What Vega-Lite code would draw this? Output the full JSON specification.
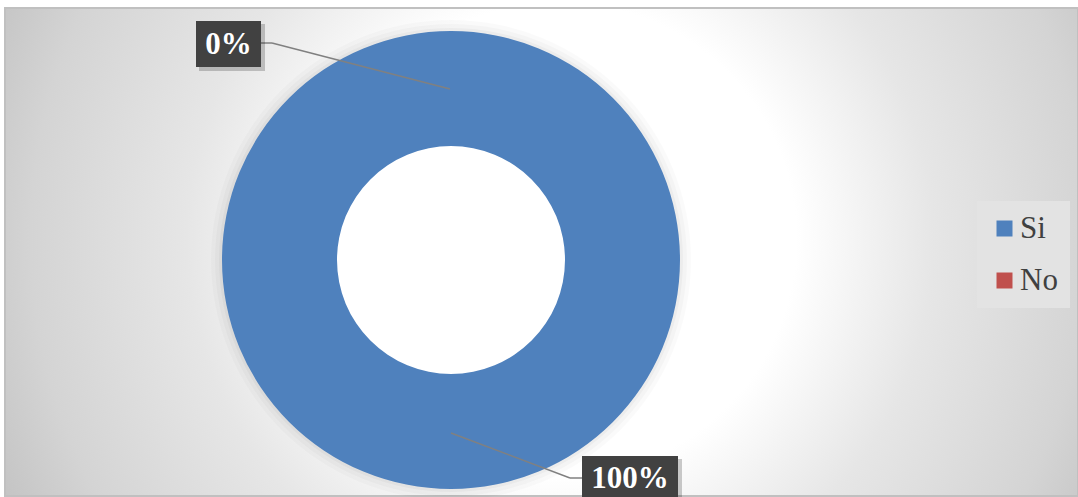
{
  "$schema": "https://vega.github.io/schema/vega-lite/v6.json",
  "width": 1078,
  "height": 497,
  "autosize": {"type": "fit", "contains": "padding"},
  "padding": {"left": 5, "top": 8, "right": 0, "bottom": 0},
  "background": "#ffffff",
  "data": {"values": [
    {"respuesta": "Si", "valor": 100, "etiqueta": "100%"},
    {"respuesta": "No", "valor": 0, "etiqueta": "0%"}
  ]},
  "layer": [
    {
      "mark": {"type": "arc", "outerRadius": 240, "innerRadius": 222, "color": "#000000", "opacity": 0.02},
      "encoding": {
        "theta": {"field": "valor", "type": "quantitative", "stack": true},
        "x": {"value": 446}, "y": {"value": 252}
      }
    },
    {
      "mark": {"type": "arc", "outerRadius": 236, "innerRadius": 222, "color": "#000000", "opacity": 0.025},
      "encoding": {
        "theta": {"field": "valor", "type": "quantitative", "stack": true},
        "x": {"value": 446}, "y": {"value": 252}
      }
    },
    {
      "mark": {"type": "arc", "outerRadius": 232, "innerRadius": 222, "color": "#000000", "opacity": 0.03},
      "encoding": {
        "theta": {"field": "valor", "type": "quantitative", "stack": true},
        "x": {"value": 446}, "y": {"value": 252}
      }
    },
    {
      "mark": {"type": "arc", "outerRadius": 229, "innerRadius": 114},
      "encoding": {
        "theta": {"field": "valor", "type": "quantitative", "stack": true},
        "color": {
          "field": "respuesta", "type": "nominal",
          "scale": {"domain": ["Si", "No"], "range": ["#4f81bd", "#c0504d"]},
          "legend": {
            "title": null, "orient": "none", "legendX": 972, "legendY": 193,
            "padding": 12, "fillColor": "#e3e3e3",
            "symbolType": "square", "symbolSize": 256, "symbolStrokeWidth": 0, "symbolOpacity": 1,
            "labelFont": "Times New Roman, Liberation Serif, serif", "labelFontSize": 31, "labelColor": "#404040",
            "rowPadding": 20, "labelOffset": 0
          }
        },
        "order": {"field": "respuesta", "sort": "descending"},
        "x": {"value": 446}, "y": {"value": 252}
      }
    },
    {
      "transform": [{"filter": "datum.respuesta === 'No'"}],
      "mark": {"type": "rule", "color": "#808080", "strokeWidth": 1.5},
      "encoding": {"x": {"value": 256}, "y": {"value": 35}, "x2": {"value": 267}, "y2": {"value": 35}}
    },
    {
      "transform": [{"filter": "datum.respuesta === 'No'"}],
      "mark": {"type": "rule", "color": "#808080", "strokeWidth": 1.5},
      "encoding": {"x": {"value": 267}, "y": {"value": 35}, "x2": {"value": 445}, "y2": {"value": 81}}
    },
    {
      "transform": [{"filter": "datum.respuesta === 'Si'"}],
      "mark": {"type": "rule", "color": "#808080", "strokeWidth": 1.5},
      "encoding": {"x": {"value": 446}, "y": {"value": 425}, "x2": {"value": 565}, "y2": {"value": 470}}
    },
    {
      "transform": [{"filter": "datum.respuesta === 'Si'"}],
      "mark": {"type": "rule", "color": "#808080", "strokeWidth": 1.5},
      "encoding": {"x": {"value": 565}, "y": {"value": 470}, "x2": {"value": 577}, "y2": {"value": 470}}
    },
    {
      "transform": [{"filter": "datum.respuesta === 'No'"}],
      "mark": {"type": "rect", "color": "#000000", "opacity": 0.2},
      "encoding": {"x": {"value": 194}, "x2": {"value": 260}, "y": {"value": 16}, "y2": {"value": 63}}
    },
    {
      "transform": [{"filter": "datum.respuesta === 'No'"}],
      "mark": {"type": "rect", "color": "#414141"},
      "encoding": {"x": {"value": 191}, "x2": {"value": 256}, "y": {"value": 13}, "y2": {"value": 59}}
    },
    {
      "transform": [{"filter": "datum.respuesta === 'Si'"}],
      "mark": {"type": "rect", "color": "#000000", "opacity": 0.2},
      "encoding": {"x": {"value": 580}, "x2": {"value": 677}, "y": {"value": 451}, "y2": {"value": 498}}
    },
    {
      "transform": [{"filter": "datum.respuesta === 'Si'"}],
      "mark": {"type": "rect", "color": "#414141"},
      "encoding": {"x": {"value": 577}, "x2": {"value": 673}, "y": {"value": 448}, "y2": {"value": 494}}
    },
    {
      "transform": [{"filter": "datum.respuesta === 'No'"}],
      "mark": {"type": "text", "font": "Times New Roman, Liberation Serif, serif", "fontWeight": "bold", "fontSize": 31, "color": "#ffffff", "align": "center", "baseline": "middle"},
      "encoding": {"text": {"field": "etiqueta"}, "x": {"value": 223.5}, "y": {"value": 37}}
    },
    {
      "transform": [{"filter": "datum.respuesta === 'Si'"}],
      "mark": {"type": "text", "font": "Times New Roman, Liberation Serif, serif", "fontWeight": "bold", "fontSize": 31, "color": "#ffffff", "align": "center", "baseline": "middle"},
      "encoding": {"text": {"field": "etiqueta"}, "x": {"value": 625}, "y": {"value": 471}}
    }
  ],
  "config": {
    "view": {
      "stroke": "#c0c0c0",
      "strokeWidth": 2,
      "fill": {
        "gradient": "radial",
        "x1": 0.517, "y1": 0.488, "r1": 0,
        "x2": 0.517, "y2": 0.488, "r2": 0.58,
        "stops": [
          {"offset": 0, "color": "#ffffff"},
          {"offset": 0.38, "color": "#ffffff"},
          {"offset": 0.6, "color": "#e6e6e6"},
          {"offset": 0.85, "color": "#d4d4d4"},
          {"offset": 1, "color": "#c2c2c2"}
        ]
      }
    }
  }
}
